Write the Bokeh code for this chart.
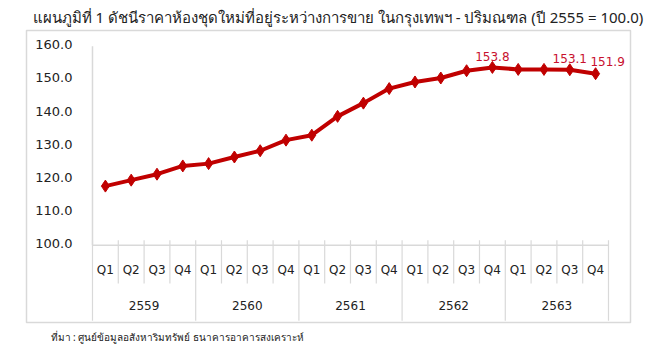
from bokeh.plotting import figure
from bokeh.models import Range1d, ColumnDataSource, Title
from bokeh.core.properties import value
from bokeh.embed import file_html
from bokeh.resources import INLINE

# ---- data ----
years = ["2559", "2560", "2561", "2562", "2563"]
quarters = ["Q1", "Q2", "Q3", "Q4"]
index_values = [117.9, 119.7, 121.5, 124.0, 124.7, 126.7, 128.6, 131.8,
                133.3, 139.0, 143.0, 147.4, 149.4, 150.6, 152.8, 153.8,
                153.2, 153.2, 153.1, 151.9]
labelled_points = [15, 18, 19]
y_ticks = [100, 110, 120, 130, 140, 150, 160]
y_tick_labels = ["100.0", "110.0", "120.0", "130.0", "140.0", "150.0", "160.0"]
title_text = "แผนภูมิที่ 1 ดัชนีราคาห้องชุดใหม่ที่อยู่ระหว่างการขาย ในกรุงเทพฯ - ปริมณฑล (ปี 2555 = 100.0)"
source_text = "ที่มา : ศูนย์ข้อมูลอสังหาริมทรัพย์ ธนาคารอาคารสงเคราะห์"

n = len(index_values)
xs = list(range(n))
q_labels = [q for _ in years for q in quarters]

FONT = "DejaVu Sans"
THAI = "Noto Sans"
RED = "#c00000"
LABEL_RED = "#c8102e"
GRID = "#d9d9d9"
TXT = "#222222"

p = figure(width=656, height=354, output_backend="svg", toolbar_location=None,
           x_range=Range1d(-3.058, 20.353), y_range=Range1d(76.64, 164.97),
           min_border_left=26, min_border_right=26, min_border_top=29, min_border_bottom=32)
p.outline_line_color = GRID
p.outline_line_width = 1.5
p.background_fill_color = "white"
p.border_fill_color = "white"
p.xgrid.visible = False
p.ygrid.visible = False
p.xaxis.visible = False
p.yaxis.visible = False

# title and source note
p.title.text = title_text
p.title.align = "left"
p.title.offset = 6
p.title.text_font = THAI
p.title.text_font_size = "15px"
p.title.text_font_style = "normal"
p.title.text_color = TXT
p.title.standoff = 8
note = Title(text=source_text, align="left", offset=24, text_font=THAI,
             text_font_size="10px", text_font_style="normal", text_color=TXT)
p.add_layout(note, "below")

base = y_ticks[0]
# y tick labels
p.text(x=[-0.5] * len(y_ticks), y=y_ticks, text=y_tick_labels, x_offset=-20, y_offset=-2,
       text_align="right", text_baseline="middle",
       text_font=value(FONT), text_font_size="13px", text_color=TXT)

# axis lines
p.segment(x0=[-0.5, -0.5], y0=[base, base], x1=[-0.5, n - 0.5], y1=[y_ticks[-1] + 0.2, base],
          line_color=GRID, line_width=1.5)
# category separators
sep_x, sep_y1 = [], []
for k in range(n + 1):
    sep_x.append(k - 0.5)
    sep_y1.append(77.2 if k % 4 == 0 else 88.4)
p.segment(x0=sep_x, y0=[base + 1.5] * len(sep_x), x1=sep_x, y1=sep_y1,
          line_color=GRID, line_width=1.2)

# category labels
p.text(x=xs, y=[92.6] * n, text=q_labels, text_align="center", text_baseline="middle",
       text_font=value(FONT), text_font_size="12px", text_color=TXT)
p.text(x=[i * 4 + 1.5 for i in range(len(years))], y=[81.8] * len(years), text=years,
       text_align="center", text_baseline="middle",
       text_font=value(FONT), text_font_size="12px", text_color=TXT)

# series
src = ColumnDataSource(dict(x=xs, y=index_values))
p.line("x", "y", source=src, line_color=RED, line_width=4)
p.scatter("x", "y", source=src, marker="diamond", size=12, fill_color=RED, line_color=RED)

# data labels
lx = [labelled_points[0], labelled_points[1]]
p.text(x=lx, y=[index_values[i] for i in lx], text=["%.1f" % index_values[i] for i in lx],
       text_align="center", text_baseline="middle", y_offset=-11,
       text_font=value(FONT), text_font_size="12px", text_color=LABEL_RED)
last = labelled_points[2]
p.text(x=[last], y=[index_values[last]], text=["%.1f" % index_values[last]],
       text_align="center", text_baseline="middle", x_offset=12, y_offset=-12,
       text_font=value(FONT), text_font_size="12px", text_color=LABEL_RED)

open("out.html", "w").write(file_html(p, INLINE))
